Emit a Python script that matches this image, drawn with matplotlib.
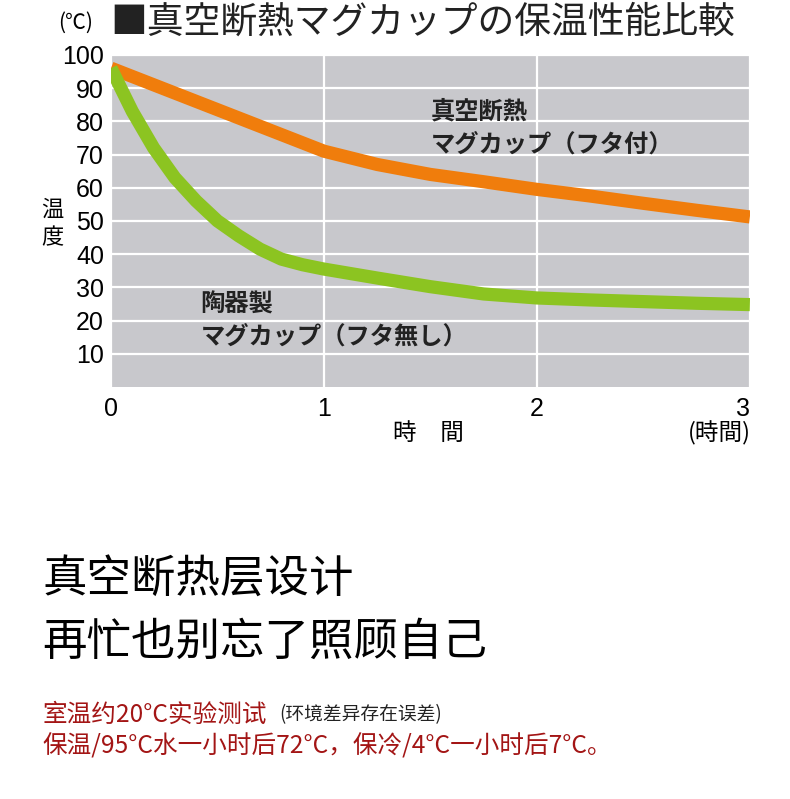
import matplotlib.pyplot as plt

plt.rcParams['font.family'] = ['Liberation Sans', 'Noto Sans CJK JP', 'DejaVu Sans']

hours = [0, 0.1, 0.2, 0.3, 0.4, 0.5, 0.6, 0.7, 0.8, 0.9, 1.0, 1.25, 1.5, 1.75, 2.0, 2.25, 2.5, 2.75, 3.0]
vacuum_mug = [96, 93.5, 91, 88.5, 86, 83.5, 81, 78.5, 76, 73.5, 71, 67, 64, 61.8, 59.5, 57.5, 55.3, 53.2, 51.2]
ceramic_mug = [96, 83, 72, 63, 56, 50, 45.5, 41.5, 38.5, 36.8, 35.5, 32.8, 30.2, 28, 26.8, 26.2, 25.7, 25.2, 24.8]

y_ticks = [10, 20, 30, 40, 50, 60, 70, 80, 90, 100]
x_ticks = [0, 1, 2, 3]

fig = plt.figure(figsize=(7.9, 7.99), dpi=100)
ax = fig.add_axes([0.1405, 0.5157, 0.8087, 0.4156])
ax.set_facecolor('#c8c8cc')

ax.plot(hours, vacuum_mug, color='#f07d0c', lw=9.5, solid_capstyle='butt', zorder=3)
ax.plot(hours, ceramic_mug, color='#8cc421', lw=9.5, solid_capstyle='butt', zorder=3)

ax.set_xlim(0, 3)
ax.set_ylim(0, 100)
ax.set_yticks(y_ticks)
ax.set_xticks(x_ticks)
ax.grid(color='white', lw=1.6, zorder=1)
ax.set_axisbelow(True)
ax.tick_params(length=0, labelsize=18, pad=5)
ax.tick_params(axis='x', pad=7)
ax.get_xticklabels()[-1].set_horizontalalignment('right')
for s in ax.spines.values():
    s.set_visible(False)

ax.text(1.5, 78, '真空断熱\nマグカップ（フタ付）', fontsize=17.5, weight='bold',
        color='#222222', linespacing=1.45, va='center', family='Noto Sans CJK JP')
ax.text(0.42, 20, '陶器製\nマグカップ（フタ無し）', fontsize=17.5, weight='bold',
        color='#222222', linespacing=1.45, va='center', family='Noto Sans CJK JP')

# title and axis labels
fig.text(0.074, 0.972, '(℃)', fontsize=15, va='center', family=['Noto Sans CJK JP'])
fig.text(0.14, 0.972, '■真空断熱マグカップの保温性能比較', fontsize=26.5,
         va='center', family=['Noto Sans CJK JP'], color='#222222')
fig.text(0.066, 0.72, '温\n度', fontsize=16, ha='center', va='center',
         linespacing=1.3, family=['Noto Sans CJK JP'])
fig.text(0.542, 0.458, '時　間', fontsize=17, ha='center', va='center',
         family=['Noto Sans CJK JP'])
fig.text(0.91, 0.458, '(時間)', fontsize=17, ha='center', va='center',
         family=['Noto Sans CJK JP'])

# text under the chart
fig.text(0.054, 0.274, '真空断热层设计', fontsize=32, va='center',
         weight='medium', family=['Noto Sans CJK SC'])
fig.text(0.054, 0.197, '再忙也别忘了照顾自己', fontsize=32, va='center',
         weight='medium', family=['Noto Sans CJK SC'])
red = '#a31515'
fig.text(0.054, 0.105, '室温约20°C实验测试', fontsize=17.7, va='center',
         color=red, family=['Noto Sans CJK SC'])
fig.text(0.354, 0.105, '(环境差异存在误差)', fontsize=13.5, va='center',
         color='#222222', family=['Noto Sans CJK SC'])
fig.text(0.054, 0.066, '保温/95°C水一小时后72°C，保冷/4°C一小时后7°C。', fontsize=17.7,
         va='center', color=red, family=['Noto Sans CJK SC'])

fig.savefig('out.png', dpi=100, facecolor='white')
